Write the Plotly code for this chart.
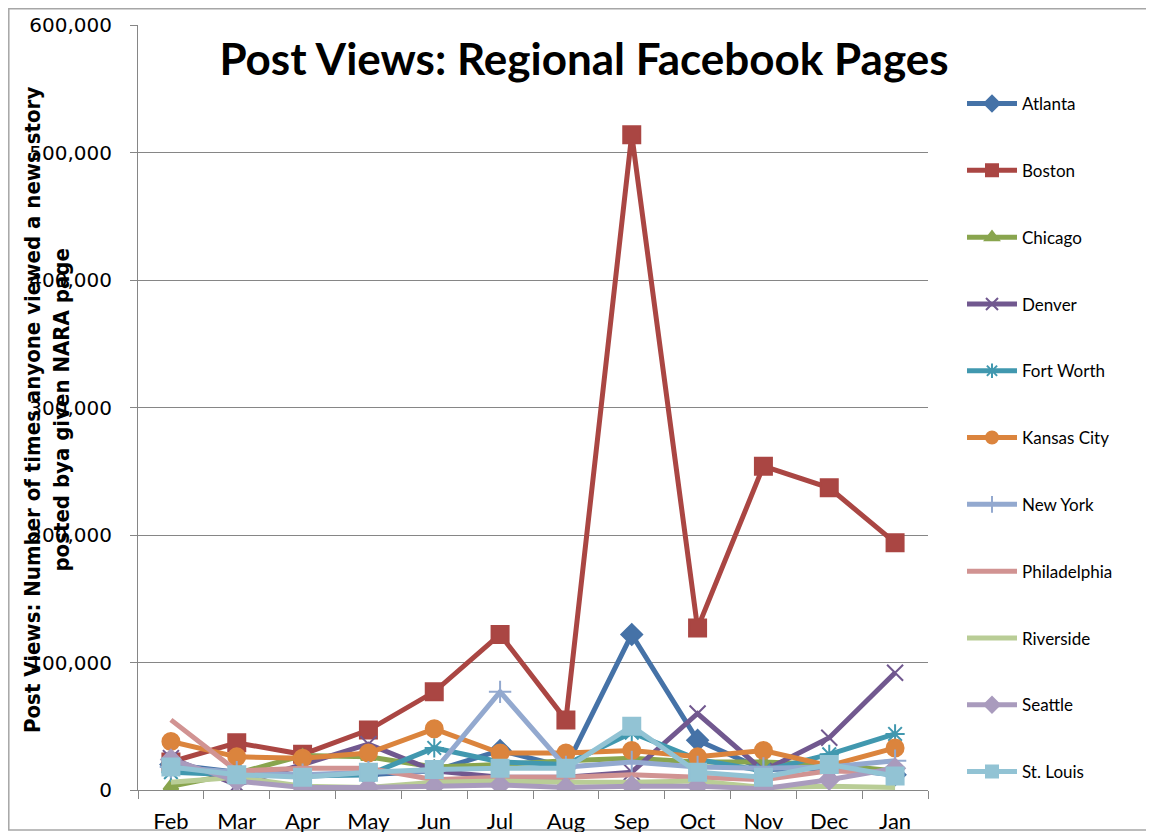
import plotly.graph_objects as go

months = ["Feb", "Mar", "Apr", "May", "Jun", "Jul", "Aug", "Sep", "Oct", "Nov", "Dec", "Jan"]

atlanta = [20000, 14000, 12000, 12000, 15000, 31000, 18000, 122000, 39000, 16000, 17000, 12000]
boston = [22000, 37000, 28000, 47000, 77000, 122000, 55000, 514000, 127000, 254000, 237000, 194000]
chicago = [3000, 13000, 27000, 26000, 18000, 20000, 23000, 25000, 22000, 22000, 20000, 15000]
denver = [25000, 4000, 20000, 36000, 15000, 10000, 10000, 14000, 60000, 15000, 41000, 92000]
fort_worth = [14000, 12000, 11000, 12000, 33000, 22000, 20000, 45000, 24000, 15000, 28000, 44000]
kansas_city = [38000, 26000, 25000, 29000, 48000, 29000, 29000, 31000, 26000, 31000, 19000, 33000]
new_york = [18000, 14000, 12000, 14000, 15000, 77000, 18000, 22000, 18000, 17000, 18000, 23000]
philadelphia = [55000, 15000, 17000, 17000, 8000, 10000, 10000, 12000, 10000, 8000, 15000, 14000]
riverside = [6000, 10000, 3000, 2000, 6000, 7000, 6000, 6000, 7000, 2000, 3000, 2000]
seattle = [24000, 7000, 2000, 2000, 3000, 4000, 2000, 3000, 3000, 1000, 8000, 17000]
st_louis = [18000, 12000, 10000, 14000, 16000, 17000, 17000, 50000, 14000, 10000, 20000, 11000]

series = [
    ("Atlanta", atlanta, "#4572A7", "diamond", 16),
    ("Boston", boston, "#AA4643", "square", 17),
    ("Chicago", chicago, "#89A54E", "triangle-up", 13),
    ("Denver", denver, "#71588F", "x-thin-open", 16),
    ("Fort Worth", fort_worth, "#4198AF", "asterisk-open", 16),
    ("Kansas City", kansas_city, "#DB843D", "circle", 17),
    ("New York", new_york, "#93A9CF", "cross-thin-open", 16),
    ("Philadelphia", philadelphia, "#D19392", None, 0),
    ("Riverside", riverside, "#B9CD96", None, 0),
    ("Seattle", seattle, "#A99BBD", "diamond", 15),
    ("St. Louis", st_louis, "#92C3D4", "square", 17),
]

fig = go.Figure()
for name, vals, col, sym, sz in series:
    if sym is None:
        fig.add_trace(go.Scatter(x=months, y=vals, name=name, mode="lines",
                                 line=dict(color=col, width=5), legendgroup=name))
    else:
        fig.add_trace(go.Scatter(x=months, y=vals, name=name, mode="lines+markers",
                                 line=dict(color=col, width=5),
                                 marker=dict(symbol=sym, size=sz, color=col,
                                             line=dict(color=col, width=2)),
                                 legendgroup=name))

# page is offset by the 8px body margin
OFF = 8
W, H = 1154 - OFF, 832 - OFF
L, R, T, B = 138 - OFF, 928 - OFF, 25 - OFF, 790 - OFF
pw, ph = R - L, B - T

def px(x):
    return (x - OFF - L) / pw

def py(y):
    return (B - (y - OFF)) / ph

fig.update_layout(
    width=W, height=H,
    margin=dict(l=L, r=W - R, t=T, b=H - B, autoexpand=False),
    paper_bgcolor="white", plot_bgcolor="white",
    title=dict(text="<b>Post Views: Regional Facebook Pages</b>",
               font=dict(family="Lato", size=44, color="black"),
               x=(584 - OFF) / W, xanchor="center",
               y=1 - (60 - OFF) / H, yanchor="middle", yref="container"),
    showlegend=True,
    legend=dict(x=px(962), xanchor="left", y=py(86), yanchor="top",
                font=dict(family="Lato", size=17, color="black"),
                tracegroupgap=41.7, bgcolor="rgba(0,0,0,0)", itemwidth=50,
                itemsizing="constant"),
    xaxis=dict(type="category", range=[-0.5, 11.5], tickson="boundaries",
               ticks="outside", ticklen=8, tickcolor="#868686",
               showline=True, linecolor="#868686", linewidth=1,
               showgrid=False, automargin=False, ticklabelstandoff=12,
               tickfont=dict(family="Lato", size=22, color="black")),
    yaxis=dict(range=[0, 600000], dtick=100000, tickformat=",",
               ticks="outside", ticklen=7, tickcolor="#868686",
               showline=True, linecolor="#868686", linewidth=1,
               showgrid=True, gridcolor="#868686", gridwidth=1,
               zeroline=False, ticklabelstandoff=14, automargin=False,
               tickfont=dict(family="DejaVu Sans", size=20, color="black")),
    annotations=[dict(
        text="<b>Post Views: Number of times anyone viewed a news story<br>posted bya given NARA page</b>",
        textangle=-90, xref="paper", yref="paper",
        x=px(47), y=py(410), xanchor="center", yanchor="middle",
        showarrow=False, align="center",
        font=dict(family="DejaVu Sans Condensed, Liberation Sans, sans-serif", size=22, color="black"))],
    shapes=[dict(type="rect", xref="paper", yref="paper",
                 x0=px(8.8), x1=px(1170), y0=py(830), y1=py(8.8),
                 line=dict(color="#A6A6A6", width=1.5), layer="below")],
)

fig.write_html("out.html")
